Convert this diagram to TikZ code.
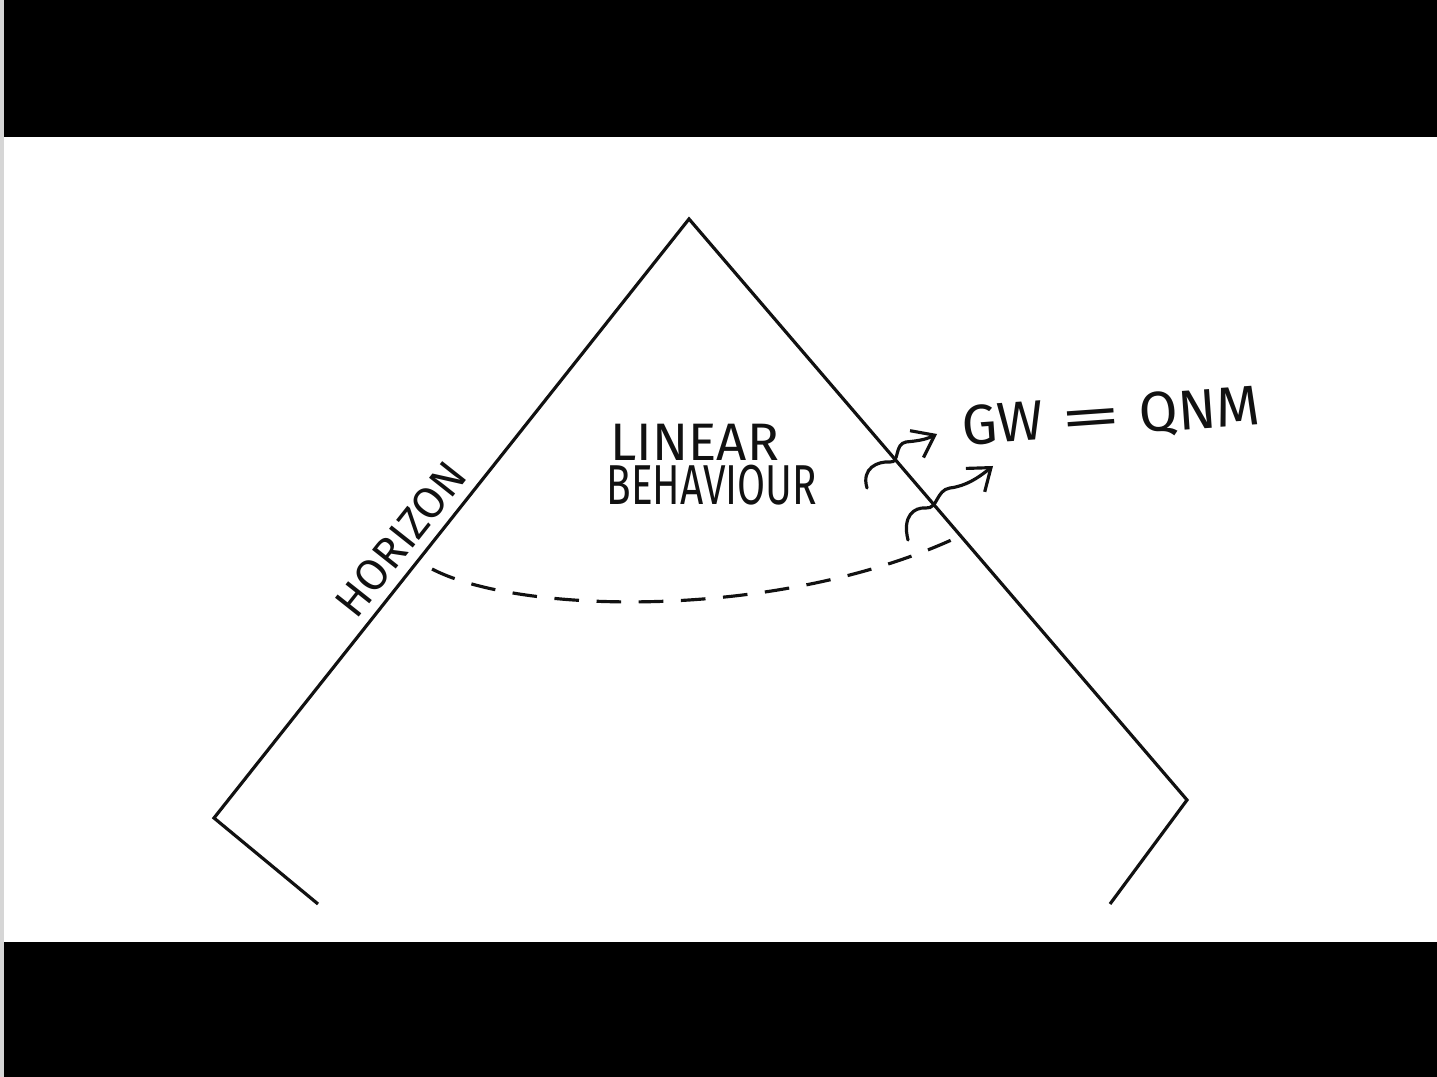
\documentclass[tikz,border=0pt]{standalone}
\usepackage{fontspec}
\usepackage{graphicx}
\setmainfont{Fira Sans}
\usetikzlibrary{arrows.meta}
\definecolor{ink}{HTML}{111111}
\definecolor{barBlack}{HTML}{000000}
\definecolor{edgeGrey}{HTML}{D6D6D6}

\begin{document}
\begin{tikzpicture}[
  x=0.01cm, y=-0.01cm,
  outline/.style={draw=ink, line width=0.9pt, line join=miter},
  sliceLine/.style={draw=ink, line width=0.9pt, dash pattern=on 7pt off 5pt},
  waveArrow/.style={
    draw=ink, line width=0.9pt, line cap=round,
    -{Straight Barb[length=2mm,width=3mm]}
  },
  handText/.style={text=ink, inner sep=0pt}
]

% Keep the frame of the screen grab, 1437 x 1077 px
\useasboundingbox (0,0) rectangle (1437,1077);
\fill[barBlack] (0,0) rectangle (1437,137);
\fill[barBlack] (0,942) rectangle (1437,1077);
\fill[edgeGrey] (0,0) rectangle (4,1077);

% Corners of the diagram
\coordinate (apex) at (689,219);
\coordinate (leftV) at (214,818);
\coordinate (rightV) at (1187,800);
\coordinate (cutL) at (318,904);
\coordinate (cutR) at (1110,904);

\draw[outline] (cutL) -- (leftV) -- (apex) -- (rightV) -- (cutR);

% Dashed slice
\coordinate (dashL) at (432,569);
\coordinate (dashR) at (958,537);
\draw[sliceLine] (dashL) .. controls (520,615) and (780,620) .. (dashR);

% Labels
\coordinate (horizonFoot) at (422,556);
\node[handText, rotate=51.6, anchor=south, yshift=3pt] (horizon) at (horizonFoot) {\fontsize{12.5}{14}\selectfont HORIZON};
\node[handText, anchor=south west] (linear) at (610,461) {\fontsize{15}{18}\selectfont LINEAR};
\node[handText, anchor=south west, xscale=0.72] (behaviour) at (606,506) {\fontsize{16}{18}\selectfont BEHAVIOUR};
\node[handText, rotate=4] (gwqnm) at (1111,418) {\fontsize{16}{18}\selectfont GW\hspace{0.3em}\scalebox{2.2}[1]{=}\hspace{0.3em}QNM};

% Waves leaving through the right edge
\coordinate (w1s) at (867,488);
\coordinate (w1e) at (937,434);
\coordinate (w2s) at (908,540);
\coordinate (w2e) at (993,466);
\draw[waveArrow] (w1s) .. controls (861,468) and (878,461) .. (890,462)
  .. controls (900,463) and (894,444) .. (906,442)
  .. controls (916,441) and (925,440) .. (w1e);
\draw[waveArrow] (w2s) .. controls (902,516) and (914,507) .. (926,508)
  .. controls (938,509) and (936,490) .. (950,488)
  .. controls (966,486) and (978,478) .. (w2e);

\end{tikzpicture}
\end{document}
